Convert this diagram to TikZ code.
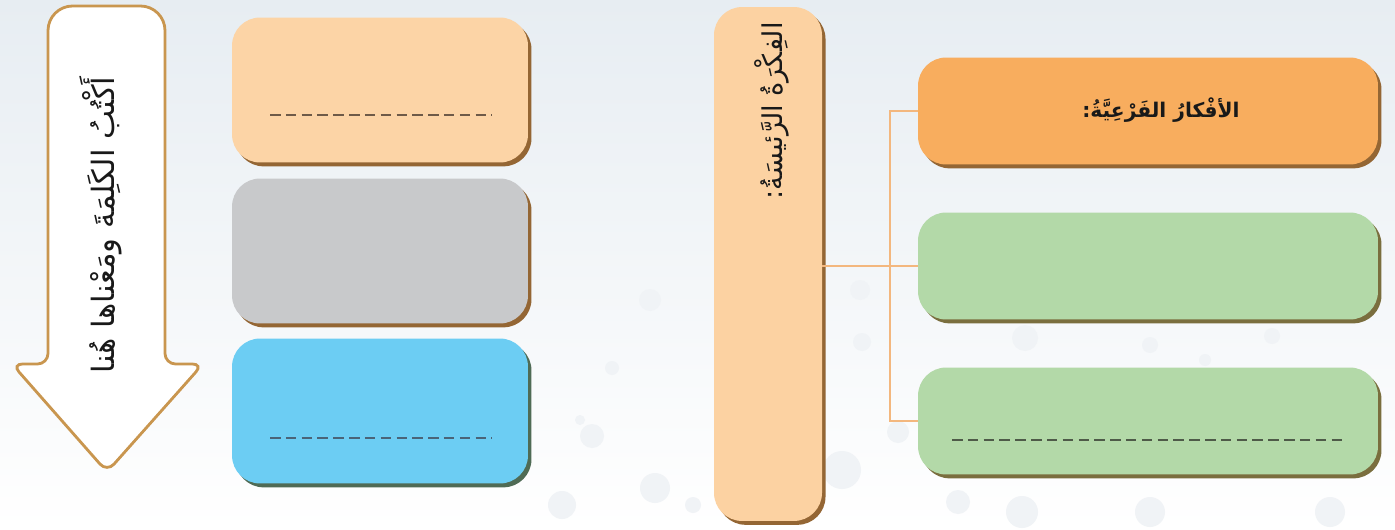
\documentclass[tikz,border=0pt]{standalone}
\usepackage{fontspec}
\newfontfamily\arabicfont[Script=Arabic]{DejaVu Sans}
\TeXXeTstate=1
\usetikzlibrary{shadows}
\definecolor{bgtop}{HTML}{E7EDF2}
\definecolor{dotc}{HTML}{F0F3F6}
\definecolor{peach}{HTML}{FCD4A6}
\definecolor{vpeach}{HTML}{FCD2A2}
\definecolor{greyb}{HTML}{C8C9CB}
\definecolor{blueb}{HTML}{6CCDF3}
\definecolor{greenb}{HTML}{B3D9A8}
\definecolor{orangeb}{HTML}{F8AD5E}
\definecolor{shbrown}{HTML}{946634}
\definecolor{shgreen}{HTML}{7A6E3E}
\definecolor{shblue}{HTML}{4F6B55}
\definecolor{conn}{HTML}{F3B77E}
\definecolor{arrowedge}{HTML}{C9964F}
\definecolor{dashc}{HTML}{6E5A48}
\definecolor{dashb}{HTML}{4A6478}
\definecolor{dashg}{HTML}{4E5A48}
\tikzset{
  box/.style={draw=none, rounded corners=16pt, inner sep=0pt},
  shb/.style={drop shadow={shadow xshift=2pt, shadow yshift=-2.2pt, fill=#1, opacity=1}},
  connline/.style={draw=conn, line width=1.2pt},
  dashline/.style={draw=#1, line width=0.9pt, dash pattern=on 6pt off 3pt},
  artext/.style={font=\arabicfont\fontsize{15}{18}\selectfont, text=black!90, inner sep=0pt},
}
\begin{document}
\begin{tikzpicture}[x=0.02cm,y=-0.02cm]
\useasboundingbox (0,0) rectangle (1395,530);
\shade[top color=bgtop, bottom color=white] (0,0) rectangle (1395,530);
% faint background dots
\foreach \cx/\cy/\r in {650/300/11,612/368/7,592/436/12,655/488/15,562/505/14,693/505/8,
  860/290/10,862/342/9,898/432/11,842/470/19,1025/338/13,1150/345/8,1272/336/8,
  1022/512/16,1150/512/15,1330/512/15,958/502/12,1205/360/6,580/420/5}
  \fill[dotc] (\cx,\cy) circle (\r);
% arrow
\draw[draw=arrowedge, line width=1.6pt, fill=white]
  (107,472) [rounded corners=6pt] -- (12,364) -- (48,364) [rounded corners=14pt] -- (48,6) -- (165,6)
  [rounded corners=6pt] -- (165,364) -- (203,364) -- cycle;
\node[artext, font=\arabicfont\fontsize{17.5}{20}\selectfont, rotate=90] (arrowtxt) at (101,225) {\beginR أَكْتُبُ الكَلِمَةَ ومَعْناها هُنا\endR};
% left boxes
\node[box, shb=shbrown, fill=peach, minimum width=5.92cm, minimum height=2.9cm] (b1) at (380,90) {};
\node[box, shb=shbrown, fill=greyb, minimum width=5.92cm, minimum height=2.9cm] (b2) at (380,251) {};
\node[box, shb=shblue, fill=blueb, minimum width=5.92cm, minimum height=2.9cm] (b3) at (380,411) {};
\draw[dashline=dashc] (270,115) -- (492,115);
\draw[dashline=dashb] (270,438) -- (492,438);
% vertical main idea box
\node[box, shb=shbrown, fill=vpeach, minimum width=2.16cm, minimum height=10.28cm] (vbox) at (768,264) {};
\node[artext, font=\arabicfont\fontsize{15.5}{18}\selectfont, rotate=90, anchor=east] (vtxt) at (772,22) {\beginR الفِكْرَةُ الرَّئيسَةُ:\endR};
% right boxes
\node[box, shb=shbrown, fill=orangeb, minimum width=9.2cm, minimum height=2.14cm] (r1) at (1148,111) {};
\node[artext, font=\arabicfont\bfseries\fontsize{11.5}{14}\selectfont] (r1t) at (1161,110) {\beginR الأفْكارُ الفَرْعِيَّةُ:\endR};
\node[box, shb=shgreen, fill=greenb, minimum width=9.2cm, minimum height=2.14cm] (r2) at (1148,266) {};
\node[box, shb=shgreen, fill=greenb, minimum width=9.2cm, minimum height=2.14cm] (r3) at (1148,421) {};
\draw[dashline=dashg] (952,440) -- (1345,440);
% connectors
\coordinate (bus) at (890,267);
\draw[connline] (vbox.east |- r2.west) -- (r2.west);
\draw[connline] (r1.west) -- (bus |- r1.west) -- (bus |- r3.west) -- (r3.west);
\end{tikzpicture}
\end{document}
